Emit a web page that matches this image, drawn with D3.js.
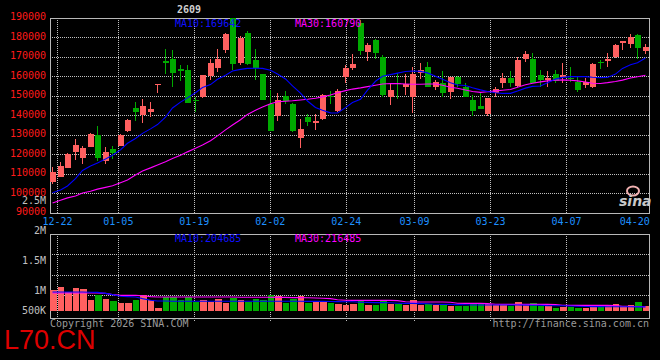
<!DOCTYPE html>
<html><head><meta charset="utf-8">
<script src="https://cdn.jsdelivr.net/npm/d3@7"></script>
<style>
html,body{margin:0;padding:0;background:#000;}
svg{display:block;}
text{font-family:"DejaVu Sans Mono",monospace;font-size:10px;}
</style></head><body>
<svg id="c" width="660" height="360"></svg>
<script>
const dates = ["12-19","12-22","12-23","12-24","12-25","12-26","12-29","12-30","12-31",
"01-05","01-06","01-07","01-08","01-09","01-12","01-13","01-14","01-15","01-16",
"01-19","01-20","01-21","01-22","01-23","01-26","01-27","01-28","01-29","01-30",
"02-02","02-03","02-04","02-05","02-06","02-09","02-10","02-11","02-12","02-13",
"02-24","02-25","02-26","02-27","03-02","03-03","03-04","03-05","03-06",
"03-09","03-10","03-11","03-12","03-13","03-16","03-17","03-18","03-19","03-20",
"03-23","03-24","03-25","03-26","03-27","03-30","03-31","04-01","04-02","04-03",
"04-07","04-08","04-09","04-10","04-13","04-14","04-15","04-16","04-17",
"04-20","04-21","04-22"];

const open = [105900,108800,113400,121600,118500,124200,130200,116800,122800,124700,
132200,144200,140400,141800,155900,168100,169000,164200,163500,148300,
149500,160400,164700,173800,190000,166900,182650,168600,161400,146100,
139900,150200,146100,128800,139550,136500,138200,150300,142450,160100,
164700,187800,172600,178900,170000,149800,156700,154950,149800,161800,
165200,154950,157000,152400,160100,154600,148100,145050,140900,151900,
156650,159200,155300,169150,169150,160900,158400,161400,159700,159400,
157500,155800,154600,167450,168100,170000,177500,176850,181450,173400];
const high = [113900,116100,120700,128100,124700,131200,134800,124200,124700,130500,
138200,147100,148600,147100,156200,174300,173800,166100,166100,149800,
161000,169000,174100,182300,190000,180900,183500,174100,161400,153200,
151500,152900,146400,138400,140900,140900,151000,152900,153600,166100,
171700,189150,177500,179200,171200,156650,161800,161400,164850,167250,
167750,158300,163150,160000,160400,157000,150700,151900,149300,154600,
161800,162800,170000,173250,172050,163500,162800,163500,166950,165000,
159700,159200,166900,168600,172050,176650,178550,182000,181800,176850];
const low = [105000,108400,113000,117300,115300,123900,117000,115100,117700,124500,
131900,137500,136500,139200,151500,161400,155000,157900,146400,142100,
149200,158400,162500,172400,163500,166100,166100,158400,148100,132200,
137500,145900,131900,123650,134800,132700,137900,146100,142100,157000,
163500,171200,168100,169000,149800,145550,148600,150700,141600,158900,
154600,153250,149500,148600,154600,149500,139900,143500,139900,149800,
154100,154600,154950,167750,156650,154600,154600,156650,156650,157500,
152400,154100,154400,164000,165200,169500,173750,174950,169000,171700];
const close = [111000,114250,120400,125000,123300,130700,118500,121300,120750,130150,
137850,142100,145000,143700,156200,166900,162100,163150,146400,148000,
160900,166900,169000,182000,166400,180100,166400,164350,148100,132200,
148100,147600,132200,133200,137000,137200,150700,149500,152900,164350,
166600,173250,176300,172050,150700,153250,156400,156300,161400,163500,
154950,157500,151900,159700,156300,149800,142650,143650,148950,153600,
159200,156650,168600,171700,157000,158400,159200,158000,160900,159050,
153250,157500,166600,167100,169150,176300,178200,180250,174600,175450];
const volume = [1070000,1200000,950000,1130000,1080000,530000,780000,580000,480000,420000,
400000,530000,780000,530000,150000,700000,700000,570000,700000,450000,
530000,450000,580000,400000,650000,530000,450000,620000,570000,780000,
730000,400000,620000,730000,400000,450000,450000,400000,330000,280000,
350000,530000,280000,280000,530000,330000,370000,280000,530000,280000,
330000,280000,370000,230000,230000,230000,370000,370000,370000,280000,
280000,230000,450000,280000,400000,230000,230000,150000,200000,200000,
170000,150000,280000,230000,230000,330000,230000,280000,450000,230000];
const ma10 = [100500,102000,104000,107800,112000,114300,115800,117800,119800,122500,
125900,128400,131000,133300,135500,139300,144000,147000,149200,151800,
154500,156000,158700,160800,163000,163800,164300,164400,164300,163400,
161400,158900,155300,151600,147600,144300,142800,141500,141400,144200,
146800,148500,153200,157700,160300,161100,161900,162700,163000,162800,
162000,160300,158700,156900,155800,155500,154400,153300,152500,151800,
151500,151500,152700,154200,155100,155300,157000,158900,159700,160100,
160100,160100,159800,159600,159700,161400,164300,166200,167200,169642];
const ma30 = [95300,96700,97900,98900,100400,101300,102400,103300,104100,105700,
107100,109600,111700,113300,114800,116400,118100,119800,121500,123300,
125000,127200,129700,132800,135300,138000,140700,142800,144500,146200,
147200,147500,147700,148100,148450,149000,149700,150700,151800,152900,
153700,154300,154950,155700,156300,156600,156500,156300,156200,156200,
156300,156300,155700,154600,154100,153200,152500,152000,152300,152800,
153100,153500,154600,155900,156700,157400,157900,158200,158400,158200,
157900,157300,156700,156600,157000,157600,158300,159400,160000,160790];
const volMa10 = [950000,950000,950000,950000,950000,940000,930000,880000,820000,740000,
720000,700000,620000,540000,500000,500000,490000,490000,490000,490000,
490000,490000,490000,490000,490000,490000,490000,490000,490000,490000,
490000,490000,485000,485000,480000,480000,480000,475000,470000,465000,
460000,440000,430000,420000,420000,410000,390000,380000,380000,370000,
360000,340000,330000,330000,320000,310000,300000,300000,300000,300000,
300000,300000,300000,295000,290000,285000,270000,265000,260000,250000,
240000,225000,220000,220000,215000,215000,210000,210000,208000,204685];
const volMa30 = [900000,900000,900000,900000,900000,900000,900000,880000,820000,780000,
780000,780000,760000,720000,700000,700000,700000,700000,700000,700000,
700000,700000,700000,700000,700000,690000,690000,690000,690000,690000,
680000,680000,670000,670000,660000,650000,640000,620000,560000,540000,
530000,530000,530000,530000,530000,530000,520000,460000,450000,450000,
450000,450000,450000,440000,390000,380000,380000,380000,370000,340000,
330000,330000,330000,330000,330000,330000,330000,320000,290000,280000,
280000,280000,280000,280000,280000,275000,240000,230000,222000,216485];

const priceTicks = [190000,180000,170000,160000,150000,140000,130000,120000,110000,100000,90000];
const dateTicks = ["12-22","01-05","01-19","02-02","02-24","03-09","03-23","04-07","04-20"];
const volTicks = [2500000,2000000,1500000,1000000,500000];
const volTickLabels = ["2.5M","2M","1.5M","1M","500K"];
const mainLegend = ["MA10:169642","MA30:160790"];
const volLegend = ["MA10:204685","MA30:216485"];
const stockCode = "2609";

const RED = "#ff6060", GREEN = "#00aa00";
const svg = d3.select("#c");
svg.append("rect").attr("width",660).attr("height",360).attr("fill","#000");

const L = 50, R = 650, mTop = 18.3, mBot = 213.3, vTop = 234.3, vBot = 318.3, vBase = 311;
const xBand = d3.scaleBand().domain(dates).range([L, R]).paddingInner(0).paddingOuter(0);
const xPoint = d3.scalePoint().domain(dates).range([L, R]);
const yP = d3.scaleLinear().domain([90000,190000]).range([mBot, mTop]);
const yV = d3.scaleLinear().domain([0,1000000]).range([vBase, vBase-20]);
const yVLabel = d3.scaleLinear().domain([1000000,2500000]).range([294.3,204.3]);

const px = v => Math.floor(v) + 0.5;
const grid = svg.append("g").attr("stroke","#c0c0c0").attr("stroke-width",1)
  .attr("stroke-dasharray","1,1").attr("shape-rendering","crispEdges");

// main horizontal gridlines
priceTicks.filter(t => t < 190000 && t > 90000).forEach(t => {
  grid.append("line").attr("x1",L).attr("x2",R).attr("y1",px(yP(t))).attr("y2",px(yP(t)));
});
// volume horizontal gridlines
[1,2,3].forEach(k => {
  const y = px(vTop + 20.4*k);
  grid.append("line").attr("x1",L).attr("x2",R).attr("y1",y).attr("y2",y);
});
// vertical gridlines
dateTicks.slice(0, dateTicks.length-1).forEach(d => {
  const x = px(xPoint(d));
  grid.append("line").attr("x1",x).attr("x2",x).attr("y1",mTop).attr("y2",mBot);
  grid.append("line").attr("x1",x).attr("x2",x).attr("y1",vTop).attr("y2",vBot+2.5);
});

// frames
const frame = svg.append("g").attr("fill","none").attr("stroke","#b8b8b8").attr("shape-rendering","crispEdges");
frame.append("rect").attr("x",px(L)).attr("y",px(mTop)).attr("width",px(R-1)-px(L)).attr("height",px(mBot)-px(mTop));
frame.append("rect").attr("x",px(L)).attr("y",px(vTop)).attr("width",px(R-1)-px(L)).attr("height",px(vBot)-px(vTop));

// candles
const cg = svg.append("g").attr("shape-rendering","crispEdges");
dates.forEach((d,i) => {
  const up = close[i] >= open[i];
  const col = up ? RED : GREEN;
  const sx = Math.round(xBand(d));
  const yH = yP(high[i]), yL = yP(low[i]);
  cg.append("rect").attr("x", sx+2).attr("width",1).attr("y",Math.round(yH))
    .attr("height", Math.max(1, Math.round(yL)-Math.round(yH))).attr("fill",col);
  const yTopB = Math.round(yP(Math.max(open[i],close[i])));
  const yBotB = Math.round(yP(Math.min(open[i],close[i])));
  cg.append("rect").attr("x", sx).attr("width",6).attr("y",yTopB)
    .attr("height", Math.max(1, yBotB-yTopB)).attr("fill",col);
});

// MA lines main
const cx = d => Math.round(xBand(d)) + 2.5;
const lineP = arr => d3.line().x((v,i)=>cx(dates[i])).y(v=>yP(v))(arr);
svg.append("path").attr("d",lineP(ma30)).attr("fill","none").attr("stroke","#ff00ff").attr("stroke-width",1.1);
svg.append("path").attr("d",lineP(ma10)).attr("fill","none").attr("stroke","#0000ff").attr("stroke-width",1.1);

// volume bars
const vg = svg.append("g").attr("shape-rendering","crispEdges");
dates.forEach((d,i) => {
  const col = close[i] >= open[i] ? RED : GREEN;
  const sx = Math.round(xBand(d));
  const ex = Math.round(xBand(d) + xBand.bandwidth());
  const y = Math.round(yV(volume[i]));
  vg.append("rect").attr("x",sx).attr("width",ex-sx-1).attr("y",y)
    .attr("height",Math.round(vBase)-y).attr("fill",col);
});
const lineV = arr => d3.line().x((v,i)=>cx(dates[i])).y(v=>yV(v))(arr);
svg.append("path").attr("d",lineV(volMa30)).attr("fill","none").attr("stroke","#ff00ff").attr("stroke-width",1.1);
svg.append("path").attr("d",lineV(volMa10)).attr("fill","none").attr("stroke","#0000ff").attr("stroke-width",1.1);

// price labels
priceTicks.forEach(t => {
  svg.append("text").attr("x",46).attr("y",yP(t)+1.7).attr("text-anchor","end")
    .attr("fill","#ff1a1a").text(t);
});
// volume labels
volTicks.forEach((t,i) => {
  svg.append("text").attr("x",46).attr("y",Math.min(314.3, yVLabel(t))).attr("text-anchor","end")
    .attr("fill","#c0c0c0").text(volTickLabels[i]);
});
// date labels
dateTicks.forEach(d => {
  svg.append("text").attr("x",xPoint(d)).attr("y",225).attr("text-anchor","middle")
    .attr("fill","#1e90ff").text(d);
});
// legends
svg.append("text").attr("x",175).attr("y",26.7).attr("fill","#1010ff").text(mainLegend[0]);
svg.append("text").attr("x",295).attr("y",26.7).attr("fill","#ff00ff").text(mainLegend[1]);
svg.append("text").attr("x",175).attr("y",241.7).attr("fill","#1010ff").text(volLegend[0]);
svg.append("text").attr("x",295).attr("y",241.7).attr("fill","#ff00ff").text(volLegend[1]);
svg.append("text").attr("x",177).attr("y",13).attr("fill","#d0d0d0").attr("font-weight","bold").text(stockCode);

// footer
svg.append("text").attr("x",50).attr("y",326.7).attr("fill","#9a9a9a").text("Copyright 2026 SINA.COM");
svg.append("text").attr("x",649).attr("y",326.7).attr("text-anchor","end").attr("fill","#9a9a9a").text("http://finance.sina.com.cn");
svg.append("text").attr("x",4).attr("y",349.3).attr("fill","#dd0000")
  .style("font-family","'Liberation Sans',Arial,sans-serif").style("font-size","27px").text("L70.CN");

// sina watermark
svg.append("ellipse").attr("cx",633).attr("cy",191).attr("rx",6).attr("ry",4.5)
  .attr("fill","none").attr("stroke","#f0b0b0").attr("stroke-width",2);
svg.append("text").attr("x",619).attr("y",206).attr("fill","#c8c8c8")
  .style("font-family","'DejaVu Sans',sans-serif").style("font-size","14px")
  .style("font-style","italic").style("font-weight","bold").text("sina");
</script>
</body></html>
